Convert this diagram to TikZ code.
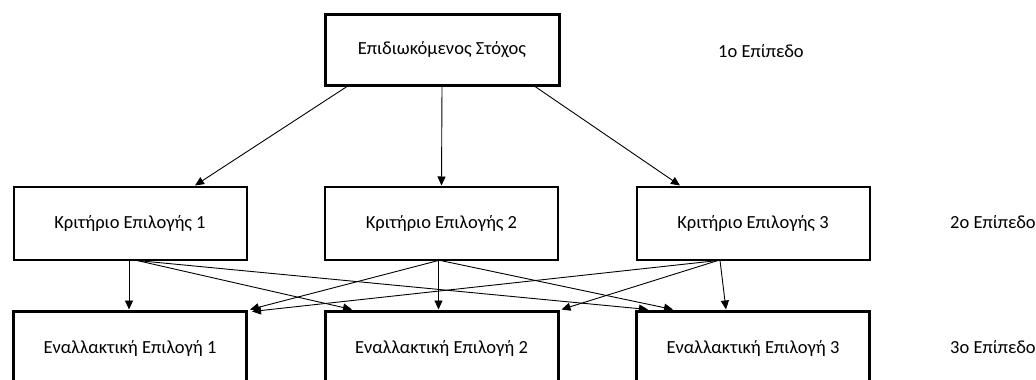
\documentclass[tikz,border=0pt]{standalone}
\usepackage{fontspec}
\setmainfont{Carlito}
\usetikzlibrary{arrows.meta}
\begin{document}
\begin{tikzpicture}[x=1pt,y=-1pt,
  every node/.style={font=\fontsize{18.5}{22}\selectfont, inner sep=0pt},
  goalbox/.style={draw, line width=3pt, minimum width=234pt, minimum height=71pt},
  critbox/.style={draw, line width=2pt, minimum width=233pt, minimum height=73pt},
  altbox/.style={draw, line width=3pt, minimum width=233pt, minimum height=74pt},
  levellabel/.style={anchor=west},
  conn/.style={line width=0.9pt, -{Triangle[length=9pt,width=8pt]}}]
\fill[white] (0,0) rectangle (1036,380);
\useasboundingbox (0,0) rectangle (1036,380);
\clip (0,0) rectangle (1036,380);

\node[goalbox] (T) at (442,49.5) {Επιδιωκόμενος Στόχος};
\node[critbox] (K1) at (130,223) {Κριτήριο Επιλογής 1};
\node[critbox] (K2) at (441.5,223) {Κριτήριο Επιλογής 2};
\node[critbox] (K3) at (753,223) {Κριτήριο Επιλογής 3};
\node[altbox] (A1) at (130,348) {Εναλλακτική Επιλογή 1};
\node[altbox] (A2) at (441.5,348) {Εναλλακτική Επιλογή 2};
\node[altbox] (A3) at (753,348) {Εναλλακτική Επιλογή 3};

\node[levellabel] (L1) at (718,51) {1ο Επίπεδο};
\node[levellabel] (L2) at (950,222) {2ο Επίπεδο};
\node[levellabel] (L3) at (950,347) {3ο Επίπεδο};

\draw[conn] ([xshift=-95pt]T.south) -- ([xshift=65pt]K1.north);
\draw[conn] (T.south) -- (K2.north);
\draw[conn] ([xshift=93pt]T.south) -- ([xshift=-73pt]K3.north);

\draw[conn] ([xshift=-1pt]K1.south) -- ([xshift=-1pt]A1.north);
\draw[conn] ([xshift=7pt]K1.south) -- ([xshift=-89.5pt]A2.north);
\draw[conn] ([xshift=7pt]K1.south) -- ([xshift=-105pt]A3.north);

\draw[conn] ([xshift=-3pt]K2.south) -- ([xshift=2pt]A1.north east);
\draw[conn] ([xshift=-3pt]K2.south) -- ([xshift=-3pt]A2.north);
\draw[conn] ([xshift=-1pt]K2.south) -- ([xshift=-80pt]A3.north);

\draw[conn] ([xshift=-35pt]K3.south) -- ([shift={(4pt,-2pt)}]A1.north east);
\draw[conn] ([xshift=-35pt]K3.south) -- ([xshift=2pt]A2.north east);
\draw[conn] ([xshift=-33pt]K3.south) -- ([xshift=-27pt]A3.north);
\end{tikzpicture}
\end{document}
